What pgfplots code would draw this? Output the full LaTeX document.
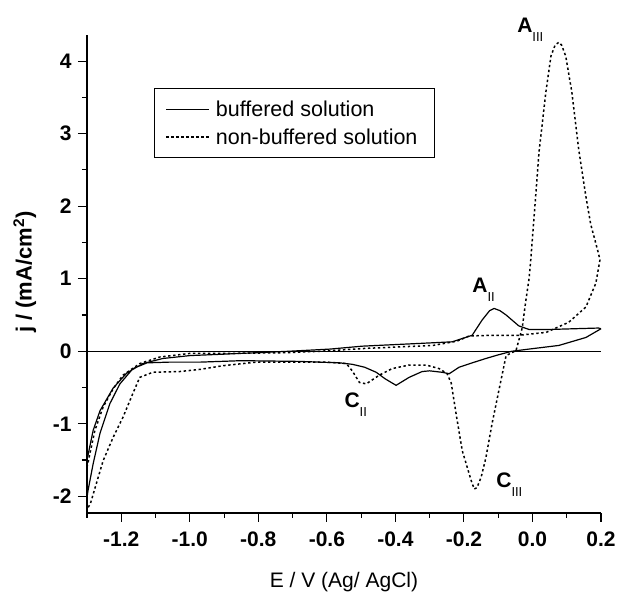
\documentclass[border=0pt]{standalone}
\usepackage{pgfplots}
\pgfplotsset{compat=1.18}
\usepackage{fontspec}
\setmainfont{Liberation Sans}
\newcommand{\sub}[1]{\raisebox{-9pt}{\fontsize{13}{13}\selectfont\mdseries #1}}
\begin{document}
\begin{tikzpicture}
\begin{axis}[
  scale only axis, width=514pt, height=478pt,
  xmin=-1.3, xmax=0.2, ymin=-2.23, ymax=4.36,
  axis x line*=bottom, axis y line*=left,
  axis line style={-, line width=1.2pt},
  tick align=outside, major tick length=9pt, minor tick length=5pt,
  tick style={line width=1.1pt, black},
  xtick={-1.2,-1,-0.8,-0.6,-0.4,-0.2,0,0.2},
  minor xtick={-1.3,-1.1,-0.9,-0.7,-0.5,-0.3,-0.1,0.1},
  ytick={-2,-1,0,1,2,3,4},
  minor ytick={-1.5,-0.5,0.5,1.5,2.5,3.5},
  xticklabel style={yshift=-6pt, /pgf/number format/.cd, fixed, fixed zerofill, precision=1},
  yticklabel style={xshift=-3pt},
  /pgf/number format/assume math mode=true,
  ticklabel style={font=\fontsize{21}{24}\selectfont\bfseries},
  xlabel={E / V (Ag/ AgCl)},
  ylabel={\bfseries j / (mA/cm\textsuperscript{2})},
  x label style={at={(axis description cs:0.5,-0.144)}, anchor=center, font=\fontsize{21}{24}\selectfont},
  y label style={at={(axis description cs:-0.121,0.504)}, anchor=center, font=\fontsize{22}{24}\selectfont},
  clip=false,
  legend cell align=left,
  legend image code/.code={\draw[#1] (0pt,0pt) -- (43pt,0pt);},
  legend style={at={(axis description cs:0.130,0.889)}, anchor=north west,
    draw=black, line width=1.1pt, font=\fontsize{21.5}{24}\selectfont,
    inner xsep=11pt, inner ysep=11pt, row sep=9pt,
    nodes={inner xsep=6pt, inner ysep=1pt}},
]
\addplot[black, line width=1.2pt] coordinates {
(0.2,0.31) (0.156,0.19) (0.077,0.08) (-0.01,0.03) (-0.06,0.0) (-0.1,-0.05)
(-0.136,-0.10) (-0.176,-0.16) (-0.214,-0.22) (-0.243,-0.31) (-0.264,-0.29)
(-0.30,-0.27) (-0.322,-0.28) (-0.36,-0.36) (-0.398,-0.47) (-0.43,-0.38)
(-0.456,-0.29) (-0.49,-0.22) (-0.526,-0.18) (-0.563,-0.16) (-0.68,-0.14)
(-0.85,-0.13) (-0.97,-0.15) (-1.06,-0.15) (-1.125,-0.16) (-1.166,-0.24)
(-1.204,-0.45) (-1.233,-0.72) (-1.262,-1.13) (-1.282,-1.55) (-1.297,-1.92)
(-1.3,-2.02) (-1.3,-1.5) (-1.282,-1.09) (-1.262,-0.82) (-1.224,-0.51)
(-1.184,-0.30) (-1.137,-0.17) (-1.079,-0.10) (-1.0,-0.06) (-0.9,-0.04)
(-0.71,0.0) (-0.59,0.03) (-0.497,0.07) (-0.32,0.11) (-0.234,0.13)
(-0.176,0.22) (-0.147,0.43) (-0.125,0.56) (-0.112,0.59) (-0.095,0.56)
(-0.077,0.50) (-0.04,0.35) (-0.01,0.30) (0.048,0.30) (0.12,0.31)
(0.193,0.32) (0.2,0.31)
};
\addlegendentry{buffered solution}
\addplot[black, line width=1.5pt, dash pattern=on 2.4pt off 2.6pt] coordinates {
(-1.3,-1.6) (-1.277,-1.09) (-1.253,-0.77) (-1.224,-0.52) (-1.195,-0.33)
(-1.146,-0.17) (-1.088,-0.08) (-1.0,-0.03) (-0.9,-0.03) (-0.72,-0.02)
(-0.62,0.0) (-0.485,0.04) (-0.29,0.08) (-0.22,0.14) (-0.185,0.21)
(-0.12,0.22) (-0.04,0.22) (0.04,0.26) (0.106,0.40) (0.156,0.61)
(0.185,0.94) (0.197,1.26) (0.192,1.36) (0.17,1.75) (0.156,2.13)
(0.135,2.78) (0.115,3.57) (0.097,4.07) (0.085,4.22) (0.077,4.26)
(0.066,4.22) (0.054,4.07) (0.039,3.57) (0.019,2.74) (0.004,1.81)
(-0.005,1.26) (-0.01,1.0) (-0.019,0.71) (-0.03,0.32) (-0.048,0.01)
(-0.077,-0.06) (-0.098,-0.54) (-0.118,-1.0) (-0.136,-1.47) (-0.15,-1.74)
(-0.162,-1.88) (-0.17,-1.90) (-0.179,-1.78) (-0.205,-1.37) (-0.223,-0.86)
(-0.237,-0.44) (-0.249,-0.31) (-0.272,-0.24) (-0.31,-0.19) (-0.36,-0.19)
(-0.41,-0.24) (-0.447,-0.33) (-0.485,-0.45) (-0.505,-0.43) (-0.526,-0.27)
(-0.543,-0.17) (-0.6,-0.15) (-0.66,-0.15) (-0.806,-0.15) (-0.904,-0.20)
(-0.97,-0.25) (-1.03,-0.28) (-1.108,-0.29) (-1.146,-0.36) (-1.166,-0.58)
(-1.195,-0.91) (-1.224,-1.19) (-1.253,-1.51) (-1.27,-1.78) (-1.29,-2.1)
(-1.3,-2.18)
};
\addlegendentry{non-buffered solution}
\addplot[black, line width=1.1pt, forget plot] coordinates {(-1.3,0) (0.2,0)};
\node[anchor=base west, inner sep=0pt, font=\fontsize{21}{24}\selectfont\bfseries] at (axis cs:-0.045,4.40) {A\sub{III}};
\node[anchor=base west, inner sep=0pt, font=\fontsize{21}{24}\selectfont\bfseries] at (axis cs:-0.176,0.816) {A\sub{II}};
\node[anchor=base west, inner sep=0pt, font=\fontsize{21}{24}\selectfont\bfseries] at (axis cs:-0.549,-0.775) {C\sub{II}};
\node[anchor=base west, inner sep=0pt, font=\fontsize{21}{24}\selectfont\bfseries] at (axis cs:-0.106,-1.88) {C\sub{III}};
\end{axis}
\pgfresetboundingbox
\path ([shift={(-87pt,-83pt)}]current axis.south west) rectangle ++(618pt,596pt);
\end{tikzpicture}
\end{document}
